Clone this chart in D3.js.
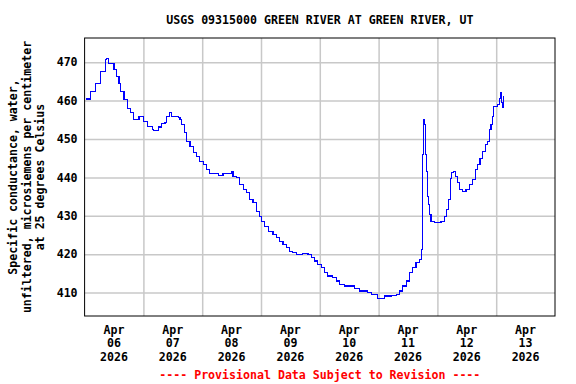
<!DOCTYPE html>
<html>
<head>
<meta charset="utf-8">
<script src="https://cdn.jsdelivr.net/npm/d3@7"></script>
<style>
  body { margin: 0; background: #fff; }
  text { font-family: "DejaVu Sans Mono", monospace; font-weight: bold; font-size: 11.6px; }
</style>
</head>
<body>
<div id="chart"></div>
<script>
// hours since Apr 06 2026 00:00
var hours = [0.5, 2.5, 4.5, 6.6, 8.6, 9.0, 9.9, 12.0, 12.9, 14.0, 14.7, 16.1, 17.4, 18.8, 20.1,
  22.2, 24.2, 25.6, 27.6, 28.0, 29.4, 30.0, 31.4, 32.8, 33.5, 34.5, 35.5, 36.8, 38.2, 38.9,
  39.6, 40.9, 41.6, 43.0, 44.3, 45.7, 47.0, 48.4, 49.8, 51.1, 53.8, 54.8, 56.5, 59.3, 59.9,
  60.6, 62.0, 63.3, 64.7, 66.1, 67.4, 68.7, 70.1, 71.5, 72.2, 73.5, 74.9, 76.9, 78.3, 79.6,
  81.0, 82.4, 83.7, 85.0, 86.4, 89.1, 91.2, 92.5, 93.9, 95.2, 96.6, 98.0, 99.3, 101.3, 102.7,
  104.1, 106.1, 108.1, 110.2, 112.2, 114.3, 115.6, 117.0, 119.7, 122.4, 125.1, 127.2, 128.5,
  129.9, 131.3, 132.6, 133.9, 135.3, 136.7, 137.4, 137.6, 137.8, 138.0, 138.4, 138.7, 139.0,
  139.5, 139.9, 140.3, 140.7, 141.4, 142.8, 144.1, 145.5, 146.9, 147.8, 148.5, 149.2, 149.8,
  150.7, 151.3, 152.3, 153.0, 154.3, 155.7, 157.1, 158.4, 159.5, 160.4, 161.4, 162.5, 163.6,
  164.5, 165.2, 165.9, 166.5, 167.0, 167.9, 168.6, 169.3, 169.7, 170.2, 170.6, 171.0];

var conductance = [460.4, 462.4, 464.5, 467.6, 470.6, 471.0, 469.7, 468.0, 466.3, 464.5, 462.4,
  460.2, 458.0, 456.8, 455.0, 455.9, 454.6, 453.3, 452.4, 452.2, 452.2, 453.1, 454.0, 454.2,
  455.9, 456.9, 455.9, 455.9, 455.5, 455.0, 453.7, 451.6, 449.4, 448.1, 446.4, 445.5, 444.2,
  443.3, 442.0, 441.0, 441.0, 440.5, 441.0, 441.0, 441.6, 440.3, 439.9, 438.1, 436.8, 436.0,
  434.2, 433.4, 431.2, 429.9, 428.6, 427.3, 426.0, 425.1, 424.3, 423.4, 422.5, 421.7, 420.8,
  420.4, 420.0, 420.2, 420.0, 419.1, 418.2, 417.4, 416.5, 415.2, 414.3, 413.9, 413.0, 412.2,
  411.7, 411.7, 411.0, 410.4, 410.4, 410.0, 409.5, 408.4, 409.1, 409.3, 409.5, 410.4, 411.7,
  413.0, 415.2, 416.5, 417.8, 418.7, 420.8, 421.2, 434.7, 445.9, 455.0, 453.7, 445.9, 441.6,
  435.1, 433.0, 430.3, 428.6, 428.2, 428.2, 428.6, 429.9, 431.6, 434.2, 439.8, 441.2, 441.6,
  440.3, 438.6, 436.8, 436.4, 436.8, 438.1, 439.4, 442.0, 443.3, 445.0, 446.8, 448.5, 449.4,
  452.4, 453.7, 455.9, 458.5, 458.5, 458.9, 460.6, 462.0, 459.4, 458.3, 461.1];

var yTicks = [410, 420, 430, 440, 450, 460, 470];
var dayLabels = ["06", "07", "08", "09", "10", "11", "12", "13"];
var title = "USGS 09315000 GREEN RIVER AT GREEN RIVER, UT";
var yTitle = ["Specific conductance, water,", "unfiltered, microsiemens per centimeter", "at 25 degrees Celsius"];
var footer = "---- Provisional Data Subject to Revision ----";

var W = 576, H = 384;
var margin = {top: 38, right: 21, bottom: 68, left: 84.6},
    width = W - margin.left - margin.right,
    height = H - margin.top - margin.bottom;

var start = new Date(2026, 3, 6);
function hourDate(h) { return new Date(start.getTime() + h * 3600000); }

var x = d3.scaleTime().domain([start, hourDate(192)]).range([0, width]);
var y = d3.scaleLinear().domain([403.9, 476.3]).range([height, 0]);

var data = hours.map(function(h, i) { return {t: hourDate(h), v: conductance[i]}; });

var svg = d3.select("#chart").append("svg")
    .attr("width", W)
    .attr("height", H);

var g = svg.append("g")
    .attr("transform", "translate(" + margin.left + "," + margin.top + ")");

// grid lines
var midnights = d3.range(1, 8).map(function(d) { return hourDate(d * 24); });
g.append("g")
    .attr("transform", "translate(0," + height + ")")
    .call(d3.axisBottom(x).tickValues(midnights).tickSize(-height).tickFormat(""))
    .call(function(s) { s.select(".domain").remove(); })
    .selectAll("line").attr("stroke", "#c8c8c8").attr("stroke-width", 1.5);

g.append("g")
    .call(d3.axisLeft(y).tickValues(yTicks).tickSize(-width).tickPadding(7).tickFormat(d3.format("d")))
    .call(function(s) { s.select(".domain").remove(); })
    .call(function(s) {
      s.selectAll("line").attr("stroke", "#c8c8c8").attr("stroke-width", 1.5);
      s.selectAll("text").attr("fill", "#000")
        .style("font-family", "DejaVu Sans Mono, monospace").style("font-weight", "bold").style("font-size", "11.6px");
    });

// the data line, stepped like the gauge record
var valueline = d3.line()
    .curve(d3.curveStepAfter)
    .x(function(d) { return x(d.t); })
    .y(function(d) { return y(d.v); });

g.append("path")
    .datum(data)
    .attr("fill", "none")
    .attr("stroke", "#0000ff")
    .attr("stroke-width", 1.2)
    .attr("shape-rendering", "crispEdges")
    .attr("d", valueline);

// frame
g.append("rect")
    .attr("width", width)
    .attr("height", height)
    .attr("fill", "none")
    .attr("stroke", "#000")
    .attr("stroke-width", 1);

// x labels at noon of each day
var xl = g.append("g");
dayLabels.forEach(function(d, i) {
  var t = xl.append("text")
      .attr("x", x(hourDate(i * 24 + 12)))
      .attr("y", height + 18)
      .attr("text-anchor", "middle");
  ["Apr", d, "2026"].forEach(function(s, j) {
    t.append("tspan").attr("x", x(hourDate(i * 24 + 12))).attr("dy", j ? 13.3 : 0).text(s);
  });
});

svg.append("text")
    .attr("x", margin.left + width / 2)
    .attr("y", 24)
    .attr("text-anchor", "middle")
    .text(title);

var yt = svg.append("text")
    .attr("transform", "translate(17," + (margin.top + height / 2) + ") rotate(-90)")
    .attr("text-anchor", "middle");
yTitle.forEach(function(s, j) {
  yt.append("tspan").attr("x", 0).attr("dy", j ? 13.5 : 0).text(s);
});

svg.append("text")
    .attr("x", margin.left + width / 2)
    .attr("y", 379)
    .attr("text-anchor", "middle")
    .attr("fill", "#ff0000")
    .text(footer);
</script>
</body>
</html>
